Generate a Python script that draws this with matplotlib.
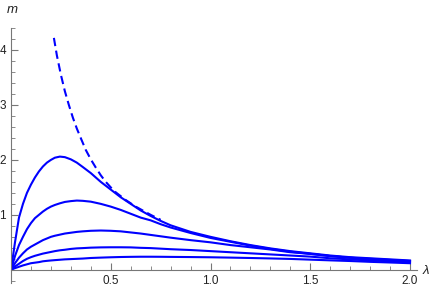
import matplotlib.pyplot as plt
from matplotlib.ticker import MultipleLocator

# values
lam = [0.0, 0.02, 0.04, 0.06, 0.08, 0.1, 0.12, 0.14, 0.16, 0.18,
       0.2, 0.22, 0.245, 0.27, 0.3, 0.33, 0.36, 0.4, 0.45, 0.5,
       0.55, 0.6, 0.65, 0.7, 0.75, 0.8, 0.9, 1.0, 1.1, 1.2,
       1.3, 1.4, 1.5, 1.6, 1.7, 1.8, 1.9, 2.0]

m1 = [0.0, 0.5, 0.95, 1.2, 1.4, 1.55, 1.68, 1.79, 1.88, 1.95,
      2.0, 2.04, 2.06, 2.05, 2.01, 1.95, 1.87, 1.76, 1.6, 1.46,
      1.32, 1.2, 1.08, 0.98, 0.89, 0.81, 0.69, 0.6, 0.52, 0.45,
      0.39, 0.34, 0.3, 0.26, 0.23, 0.21, 0.19, 0.17]
m2 = [0.0, 0.25, 0.45, 0.6, 0.74, 0.85, 0.94, 1.0, 1.06, 1.11,
      1.15, 1.18, 1.21, 1.235, 1.25, 1.26, 1.255, 1.24, 1.2, 1.15,
      1.09, 1.02, 0.95, 0.9, 0.83, 0.77, 0.67, 0.58, 0.51, 0.44,
      0.38, 0.33, 0.29, 0.25, 0.22, 0.2, 0.18, 0.16]
m3 = [0.0, 0.12, 0.22, 0.3, 0.37, 0.42, 0.46, 0.5, 0.54, 0.57,
      0.6, 0.62, 0.64, 0.66, 0.675, 0.69, 0.7, 0.71, 0.715, 0.71,
      0.7, 0.68, 0.66, 0.635, 0.61, 0.585, 0.54, 0.5, 0.45, 0.41,
      0.37, 0.32, 0.29, 0.25, 0.22, 0.19, 0.17, 0.155]
m4 = [0.0, 0.06, 0.11, 0.16, 0.2, 0.23, 0.255, 0.275, 0.295, 0.31,
      0.325, 0.34, 0.355, 0.365, 0.38, 0.39, 0.395, 0.403, 0.408, 0.41,
      0.41, 0.408, 0.4, 0.395, 0.385, 0.375, 0.36, 0.34, 0.32, 0.3,
      0.28, 0.26, 0.24, 0.21, 0.19, 0.17, 0.155, 0.14]
m5 = [0.0, 0.03, 0.055, 0.08, 0.1, 0.12, 0.13, 0.14, 0.155, 0.163,
      0.17, 0.176, 0.183, 0.19, 0.195, 0.2, 0.205, 0.215, 0.222, 0.228,
      0.233, 0.236, 0.238, 0.238, 0.237, 0.235, 0.232, 0.228, 0.222, 0.215,
      0.207, 0.198, 0.185, 0.172, 0.16, 0.145, 0.133, 0.12]

# dashed envelope
lam_env = [0.215, 0.23, 0.25, 0.27, 0.29, 0.31, 0.33, 0.354, 0.375, 0.4,
           0.425, 0.45, 0.475, 0.5, 0.525, 0.55, 0.575, 0.6, 0.625, 0.65,
           0.7, 0.75]
m_env = [4.22, 3.9, 3.55, 3.25, 3.0, 2.77, 2.57, 2.36, 2.18, 2.01,
         1.86, 1.72, 1.6, 1.5, 1.41, 1.34, 1.27, 1.21, 1.15, 1.1,
         1.0, 0.91]

blue = (0, 0, 1)
axis_gray = '#777777'
text_col = '#222222'

plt.rcParams['font.family'] = ['Liberation Sans', 'DejaVu Sans']

fig = plt.figure(figsize=(4.36, 2.93), dpi=100)
ax = fig.add_axes([11 / 436, 10 / 293, 406 / 436, 255 / 293])

for m in (m1, m2, m3, m4, m5):
    ax.plot(lam, m, color=blue, lw=1.5, solid_joinstyle='round')
ax.plot(lam_env, m_env, color=blue, lw=1.5, dashes=(4, 2.2))

ax.set_xlim(0, 2.035)
ax.set_ylim(-0.24, 4.4)

# axes crossing at the origin
for side in ('top', 'right'):
    ax.spines[side].set_visible(False)
ax.spines['left'].set_position(('data', 0))
ax.spines['bottom'].set_position(('data', 0))
for side in ('left', 'bottom'):
    ax.spines[side].set_color(axis_gray)
    ax.spines[side].set_linewidth(0.8)

ax.xaxis.set_minor_locator(MultipleLocator(0.1))
ax.yaxis.set_minor_locator(MultipleLocator(0.2))
ax.set_xticks([0.5, 1.0, 1.5, 2.0])
ax.set_xticklabels(['0.5', '1.0', '1.5', '2.0'])
ax.set_yticks([1, 2, 3, 4])
ax.set_yticklabels(['1', '2', '3', '4'])

ax.tick_params(which='major', direction='in', length=5, width=0.8,
               color=axis_gray, labelsize=8.5, labelcolor=text_col, pad=3.5)
ax.tick_params(which='minor', direction='in', length=3, width=0.6,
               color=axis_gray)

fig.text(12 / 436, 1 - 10 / 293, 'm', style='italic', fontsize=9.5,
         ha='center', va='center', color=text_col)
fig.text(426 / 436, 1 - 271 / 293, 'λ', style='italic', fontsize=9.5,
         ha='center', va='center', color=text_col)

fig.savefig('out.png', dpi=100, facecolor='white')
